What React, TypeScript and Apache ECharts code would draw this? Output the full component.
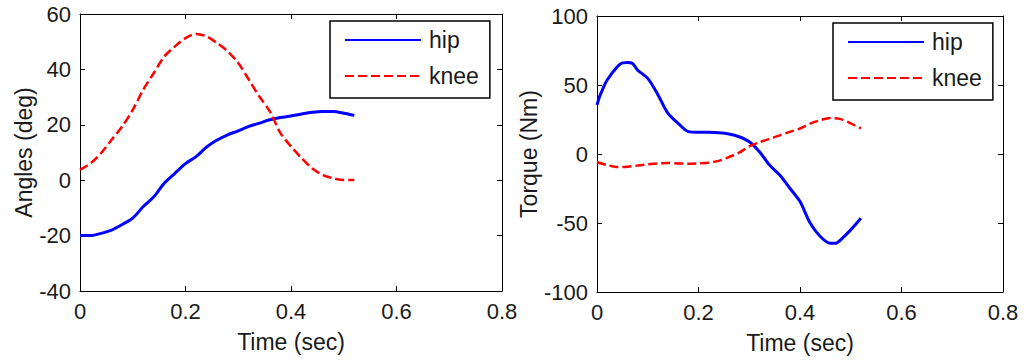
import React, { useEffect, useRef } from "react";
import * as echarts from "echarts";

// ---- data ----
const timeAngles = [0, 0.02, 0.04, 0.06, 0.08, 0.1, 0.12, 0.14, 0.16, 0.18, 0.2, 0.22, 0.24, 0.26, 0.28, 0.3, 0.32, 0.34, 0.36, 0.38, 0.4, 0.42, 0.44, 0.46, 0.48, 0.5, 0.52];
const hipAngle = [-20, -20, -19.2, -18, -16, -13.7, -9.5, -6, -1, 2.5, 6, 8.5, 12, 14.5, 16.4, 17.8, 19.4, 20.6, 21.8, 22.6, 23.2, 23.9, 24.5, 24.8, 24.8, 24.2, 23.4];
const kneeAngle = [3.7, 6.1, 9.8, 14.6, 19.4, 25.4, 32.7, 38.7, 44.7, 48.3, 51.3, 52.8, 51.9, 49.5, 46.5, 42.3, 36.3, 30.2, 24.8, 17, 12.2, 8, 4.3, 1.9, 0.7, 0.1, 0.1];

const timeHipTorque = [0, 0.005, 0.01, 0.02, 0.04, 0.05, 0.06, 0.07, 0.08, 0.1, 0.12, 0.14, 0.16, 0.18, 0.2, 0.22, 0.24, 0.26, 0.28, 0.3, 0.32, 0.34, 0.36, 0.38, 0.4, 0.42, 0.44, 0.46, 0.47, 0.48, 0.5, 0.52];
const hipTorque = [35.5, 41.5, 46, 53.6, 63.2, 66, 66.3, 65.6, 60.8, 54.8, 43, 29.4, 22.2, 16.2, 15.7, 15.7, 15.4, 14.5, 12.5, 8.9, 1.7, -8, -15.2, -24.8, -34.5, -50, -59.8, -64.7, -64.7, -62.2, -55, -46.6];
const timeKneeTorque = [0, 0.02, 0.04, 0.06, 0.08, 0.1, 0.12, 0.14, 0.16, 0.18, 0.2, 0.22, 0.24, 0.26, 0.28, 0.3, 0.32, 0.34, 0.36, 0.38, 0.4, 0.42, 0.44, 0.46, 0.48, 0.5, 0.52];
const kneeTorque = [-6, -8, -9.5, -9.2, -8.4, -7.5, -6.8, -6.5, -6.8, -7, -6.8, -6.3, -5, -2.2, 1, 5.5, 8.5, 11, 13.5, 16, 18.5, 22, 24.5, 26, 25.3, 22.2, 18.6];

const seriesNames = ["hip", "knee"];
const xTitle = "Time (sec)";
const yTitles = ["Angles (deg)", "Torque (Nm)"];

const FONT = "'Liberation Sans', Arial, sans-serif";
const TXT = "#1a1a1a";
const BLUE = "#0000ff";
const RED = "#ff0000";

const zip = (t: number[], v: number[]) => t.map((x, i) => [x, v[i]]);

export default function App() {
  const ref = useRef<HTMLDivElement>(null);
  useEffect(() => {
    if (!ref.current) return;
    const chart = echarts.init(ref.current, null, { renderer: "svg" });

    const grids = [
      { left: 80, top: 14, width: 422, height: 277 },
      { left: 597, top: 16, width: 406, height: 276 },
    ];
    const yRanges = [
      { min: -40, max: 60, interval: 20 },
      { min: -100, max: 100, interval: 50 },
    ];
    const axisLine = { show: true, onZero: false, lineStyle: { color: "#000", width: 1 } };
    const tick = { show: true, inside: true, length: 5, lineStyle: { color: "#000" } };
    const label = { color: TXT, fontSize: 22, fontFamily: FONT };

    const xAxis: any[] = [];
    const yAxis: any[] = [];
    grids.forEach((_, g) => {
      xAxis.push({
        type: "value", gridIndex: g, position: "bottom", min: 0, max: 0.8, interval: 0.2,
        axisLine, axisTick: tick, splitLine: { show: false },
        axisLabel: { ...label, margin: 9 },
        name: xTitle, nameLocation: "middle", nameGap: 39,
        nameTextStyle: { color: TXT, fontSize: 23, fontFamily: FONT },
      });
      xAxis.push({
        type: "value", gridIndex: g, position: "top", min: 0, max: 0.8, interval: 0.2,
        axisLine, axisTick: tick, splitLine: { show: false }, axisLabel: { show: false },
      });
      yAxis.push({
        type: "value", gridIndex: g, position: "left", ...yRanges[g],
        axisLine, axisTick: tick, splitLine: { show: false },
        axisLabel: { ...label, margin: 9 },
        name: yTitles[g], nameLocation: "middle", nameGap: g === 0 ? 40 : 47,
        nameTextStyle: { color: TXT, fontSize: 23, fontFamily: FONT },
      });
      yAxis.push({
        type: "value", gridIndex: g, position: "right", ...yRanges[g],
        axisLine, axisTick: tick, splitLine: { show: false }, axisLabel: { show: false },
      });
    });

    const hipStyle = { color: BLUE, width: 3, type: "solid" };
    const kneeStyle = { color: RED, width: 2.5, type: [9, 4] };
    const mk = (name: string, g: number, data: number[][], ls: any) => ({
      name, type: "line", xAxisIndex: g * 2, yAxisIndex: g * 2, data,
      symbol: "none", showSymbol: false, smooth: 0.3, lineStyle: ls, itemStyle: { color: ls.color },
    });

    const legendCommon = {
      orient: "vertical",
      data: seriesNames,
      itemWidth: 76,
      itemHeight: 14,
      itemGap: 12,
      borderColor: "#000",
      borderWidth: 1.5,
      backgroundColor: "#fff",
      padding: [7, 11, 10, 14],
      selectedMode: false,
      itemStyle: { opacity: 0 },
      textStyle: { color: TXT, fontSize: 23, fontFamily: FONT, lineHeight: 24, padding: [0, 0, 0, 3] },
    };

    chart.setOption({
      animation: false,
      backgroundColor: "#fff",
      grid: grids.map((g) => ({ ...g, containLabel: false })),
      xAxis,
      yAxis,
      legend: [
        { ...legendCommon, left: 330, top: 21 },
        { ...legendCommon, left: 833, top: 23 },
      ],
      series: [
        mk("hip", 0, zip(timeAngles, hipAngle), hipStyle),
        mk("knee", 0, zip(timeAngles, kneeAngle), kneeStyle),
        mk("hip", 1, zip(timeHipTorque, hipTorque), hipStyle),
        mk("knee", 1, zip(timeKneeTorque, kneeTorque), kneeStyle),
      ],
    });
    return () => chart.dispose();
  }, []);
  return (
    <div
      ref={ref}
      style={{ position: "absolute", left: 0, top: 0, width: 1035, height: 360, background: "#fff" }}
    />
  );
}
